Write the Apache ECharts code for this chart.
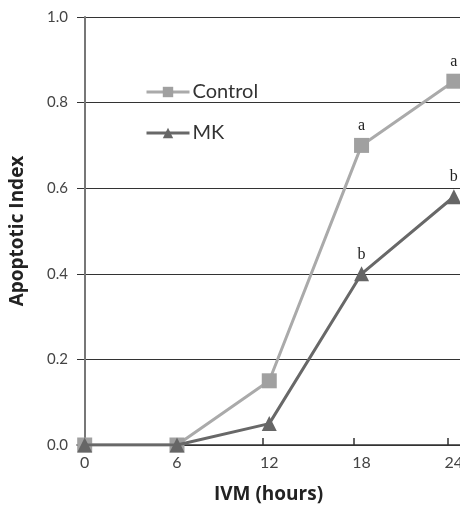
<!DOCTYPE html>
<html><head><meta charset="utf-8">
<script src="https://cdn.jsdelivr.net/npm/echarts@6/dist/echarts.min.js"></script>
<style>html,body{margin:0;padding:0;background:#fff}#c{width:460px;height:511px}</style>
</head><body><div id="c"></div>
<script>
var hours = [0, 6, 12, 18, 24];
var controlValues = [0, 0, 0.15, 0.70, 0.85];
var mkValues = [0, 0, 0.05, 0.40, 0.58];
var controlLetters = ['', '', '', 'a', 'a'];
var mkLetters = ['', '', '', 'b', 'b'];
var xTickLabels = [0, 6, 12, 18, 24];

function pts(vals, letters) {
  return hours.map(function (h, i) {
    return { value: [h, vals[i]], label: { show: letters[i] !== '', formatter: letters[i] } };
  });
}
var chart = echarts.init(document.getElementById('c'));
chart.setOption({
  animation: false,
  grid: { left: 77, right: 0, top: 17, bottom: 66, containLabel: false, outerBoundsMode: 'none' },
  legend: {
    orient: 'vertical', left: 140, top: 77, itemGap: 21,
    itemWidth: 43, itemHeight: 13,
    lineStyle: { width: 3 },
    textStyle: { fontFamily: 'Lato', fontSize: 20, color: '#333', padding: [0, 0, 0, -2] },
    data: ['Control', 'MK']
  },
  xAxis: {
    type: 'value', min: -0.5, max: 24.4,
    name: 'IVM (hours)', nameLocation: 'middle', nameGap: 40,
    nameTextStyle: { fontFamily: 'Open Sans', fontWeight: 'bold', fontSize: 19, color: '#222' },
    axisLine: { show: true, onZero: false, lineStyle: { color: '#333', width: 1.5 } },
    axisTick: { show: true, inside: true, length: 7, customValues: [11.6, 17.5, 23.6], lineStyle: { color: '#333', width: 1.5 } },
    axisLabel: { customValues: xTickLabels, fontFamily: 'Lato', fontSize: 16, color: '#444', margin: 10 },
    splitLine: { show: false }
  },
  yAxis: {
    type: 'value', min: 0, max: 1, interval: 0.2,
    name: 'Apoptotic Index', nameLocation: 'middle', nameGap: 50, nameRotate: 90,
    nameTextStyle: { fontFamily: 'Open Sans', fontWeight: 'bold', fontSize: 19, color: '#222' },
    axisLine: { show: true, lineStyle: { color: '#777', width: 2 } },
    axisTick: { show: false },
    axisLabel: { formatter: function (v) { return v.toFixed(1); }, fontFamily: 'Lato', fontSize: 15, color: '#444', margin: 9 },
    splitLine: { show: true, lineStyle: { color: '#333', width: 1.2 } }
  },
  series: [
    {
      name: 'Control', type: 'line', data: pts(controlValues, controlLetters),
      symbol: 'rect', symbolSize: 15, z: 3,
      lineStyle: { color: '#aaaaaa', width: 3 },
      itemStyle: { color: '#a0a0a0' },
      label: { position: 'top', distance: 4, fontFamily: 'Liberation Serif', fontSize: 16, color: '#222' }
    },
    {
      name: 'MK', type: 'line', data: pts(mkValues, mkLetters),
      symbol: 'triangle', symbolSize: 15, z: 4,
      lineStyle: { color: '#686868', width: 3 },
      itemStyle: { color: '#666666' },
      label: { position: 'top', distance: 4, fontFamily: 'Liberation Serif', fontSize: 16, color: '#222' }
    }
  ]
});
</script></body></html>
